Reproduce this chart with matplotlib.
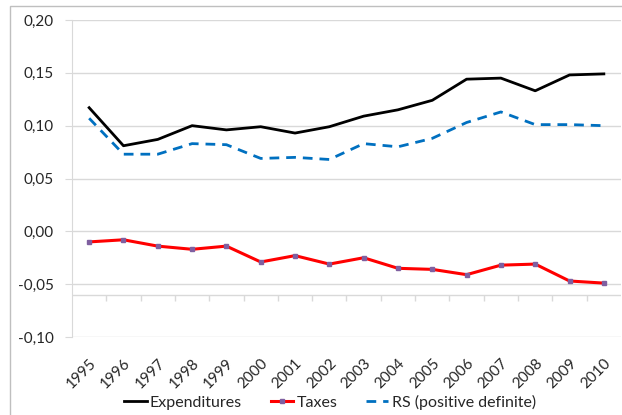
import numpy as np
import matplotlib.pyplot as plt
from matplotlib.patches import Rectangle
from matplotlib.ticker import FuncFormatter

years = [str(y) for y in range(1995, 2011)]
expenditures = [0.117, 0.081, 0.087, 0.100, 0.096, 0.099, 0.093, 0.099,
                0.109, 0.115, 0.124, 0.144, 0.145, 0.133, 0.148, 0.149]
taxes = [-0.010, -0.008, -0.014, -0.017, -0.014, -0.029, -0.023, -0.031,
         -0.025, -0.035, -0.036, -0.041, -0.032, -0.031, -0.047, -0.049]
rs_posdef = [0.107, 0.073, 0.073, 0.083, 0.082, 0.069, 0.070, 0.068,
             0.083, 0.080, 0.088, 0.103, 0.113, 0.101, 0.101, 0.100]
y_ticks = [-0.10, -0.05, 0.00, 0.05, 0.10, 0.15, 0.20]
x_axis_at = -0.06

plt.rcParams["font.family"] = ["Lato", "DejaVu Sans"]
grid_c = "#d9d9d9"
text_c = "#262626"

fig = plt.figure(figsize=(6.22, 4.15), dpi=100)
ax = fig.add_axes([72 / 622, 1 - 337 / 415, 549 / 622, 317 / 415])

# outer chart border (only left/top visible in the crop)
fig.patches.append(Rectangle((10 / 622, -0.1), 1.2, 1.1 - 6 / 415,
                             transform=fig.transFigure, fill=False,
                             edgecolor="#bfbfbf", linewidth=1.0))

x = np.arange(len(years))
ax.plot(x, expenditures, color="black", linewidth=2, label="Expenditures", zorder=3)
ax.plot(x, taxes, color="#ff0000", linewidth=2.2, marker="s", markersize=3,
        markerfacecolor="#7f5fa0", markeredgecolor="#7f5fa0", label="Taxes", zorder=3)
ax.plot(x, rs_posdef, color="#0070c0", linewidth=2, linestyle=(0, (3.5, 2.5)),
        label="RS (positive definite)", zorder=3)

ax.set_xlim(-0.5, len(years) - 0.5)
ax.set_ylim(-0.10, 0.20)
ax.set_yticks(y_ticks)
ax.yaxis.set_major_formatter(FuncFormatter(lambda v, p: f"{v:.2f}".replace(".", ",")))
ax.grid(axis="y", color=grid_c, linewidth=1)
ax.set_axisbelow(True)

# category axis drawn at -0.06, labels placed low
ax.axhline(x_axis_at, color=grid_c, linewidth=1, zorder=2)
bounds = np.arange(len(years) + 1) - 0.5
ax.vlines(bounds[1:-1], x_axis_at - 0.0055, x_axis_at, color=grid_c, linewidth=1, zorder=2)

ax.set_xticks(x)
ax.set_xticklabels(years, rotation=45, ha="right", rotation_mode="anchor")
ax.tick_params(axis="x", length=0, pad=14, labelsize=11, colors=text_c)
ax.tick_params(axis="y", length=5, color=grid_c, labelsize=11, labelcolor=text_c, pad=8)

for s in ["top", "right", "bottom"]:
    ax.spines[s].set_visible(False)
ax.spines["left"].set_color(grid_c)

fig.legend(loc="center", bbox_to_anchor=(330 / 622, 1 - 402 / 415), ncol=3,
           frameon=False, fontsize=11.5, handlelength=1.4, handletextpad=0.2,
           columnspacing=1.8, labelcolor=text_c)

fig.savefig("out.png", dpi=100)
